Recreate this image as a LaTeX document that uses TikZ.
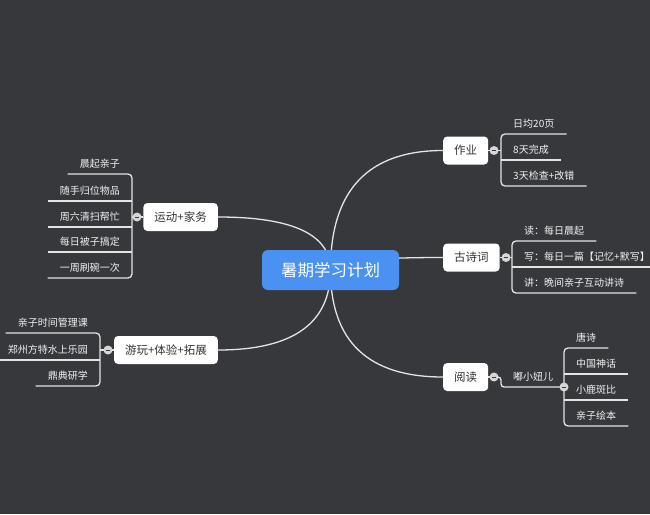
\documentclass[tikz,border=0pt]{standalone}
\usepackage{fontspec}
\newfontfamily\cjk{Noto Sans CJK SC}
\usetikzlibrary{calc}
\definecolor{bgc}{HTML}{36383C}
\definecolor{linec}{HTML}{E4E4E4}
\definecolor{rootc}{HTML}{4B91F1}
\definecolor{leafc}{HTML}{F2F2F2}
\definecolor{topicc}{HTML}{333333}
\definecolor{foldc}{HTML}{D6D6D6}
\pgfdeclarelayer{bgzero}
\pgfdeclarelayer{bgone}
\pgfsetlayers{bgzero,bgone,main}
\tikzset{
  conn/.style={draw=linec, line width=1.3pt},
  rootbox/.style={fill=rootc, rounded corners=6pt, text=white,
    font=\cjk\fontsize{16.5}{20}\selectfont, minimum width=137pt, minimum height=40pt, inner sep=0pt},
  topic/.style={fill=white, rounded corners=4pt, text=topicc,
    font=\cjk\fontsize{11.5}{14}\selectfont, inner xsep=11pt, inner ysep=0pt, minimum height=28pt},
  leaf/.style={text=leafc, font=\cjk\fontsize{10}{12}\selectfont, inner xsep=12pt, inner ysep=5pt,
    text height=8.8pt, text depth=1.2pt},
  fold/.style={circle, fill=foldc, minimum size=9pt, inner sep=0pt,
    path picture={\draw[bgc, line width=1pt] ($(path picture bounding box.center)+(-2.3pt,0)$) -- ++(4.6pt,0);}},
}
\newcommand{\mapcurve}[2]{%
  \draw[conn] (#1.center) .. controls ($(#1.center)!0.6667!(#1.center |- #2)$) and ($(#2)!0.6667!(#1.center |- #2)$) .. (#2);}
\begin{document}
\begin{tikzpicture}[x=1pt, y=-1pt]
\begin{pgfonlayer}{bgzero}
  \fill[bgc] (0,0) rectangle (650,514);
\end{pgfonlayer}
\useasboundingbox (0,0) rectangle (650,514);

% root
\node[rootbox] (root) at (330.5,270) {暑期学习计划};

% topics
\node[topic, anchor=east] (t1) at (218,217) {运动+家务};
\node[topic, anchor=east] (t2) at (218,350) {游玩+体验+拓展};
\node[topic, anchor=west] (t3) at (443,150.5) {作业};
\node[topic, anchor=west] (t4) at (443,257.5) {古诗词};
\node[topic, anchor=west] (t5) at (443,377) {阅读};

% folds
\node[fold] (f1) at (137,217) {};
\node[fold] (f2) at (108,350) {};
\node[fold] (f3) at (494,150.5) {};
\node[fold] (f4) at (506,257.5) {};
\node[fold] (f5) at (494,377) {};
\node[fold] (f6) at (564,387) {};

% leaves of 运动+家务
\node[leaf, anchor=south east] (l11) at (132,174) {晨起亲子};
\node[leaf, anchor=south east] (l12) at (132,201) {随手归位物品};
\node[leaf, anchor=south east] (l13) at (132,227) {周六清扫帮忙};
\node[leaf, anchor=south east] (l14) at (132,252) {每日被子搞定};
\node[leaf, anchor=south east] (l15) at (132,278) {一周刷碗一次};

% leaves of 游玩+体验+拓展
\node[leaf, anchor=south east] (l21) at (100,333) {亲子时间管理课};
\node[leaf, anchor=south east] (l22) at (100,360) {郑州方特水上乐园};
\node[leaf, anchor=south east] (l23) at (100,386) {鼎典研学};

% leaves of 作业
\node[leaf, anchor=south west] (l31) at (501,134) {日均20页};
\node[leaf, anchor=south west] (l32) at (501,160) {8天完成};
\node[leaf, anchor=south west] (l33) at (501,186) {3天检查+改错};

% leaves of 古诗词
\node[leaf, anchor=south west] (l41) at (512,241) {读：每日晨起};
\node[leaf, anchor=south west] (l42) at (512,267) {写：每日一篇【记忆+默写】};
\node[leaf, anchor=south west] (l43) at (512,293) {讲：晚间亲子互动讲诗};

% 阅读
\node[leaf, anchor=south west] (s5) at (501,387) {嘟小妞儿};
\node[leaf, anchor=south west] (l51) at (564,348) {唐诗};
\node[leaf, anchor=south west] (l52) at (564,374) {中国神话};
\node[leaf, anchor=south west] (l53) at (564,400) {小鹿斑比};
\node[leaf, anchor=south west] (l54) at (564,426) {亲子绘本};

\begin{pgfonlayer}{bgone}
  % main curves
  \mapcurve{root}{t1.east}
  \mapcurve{root}{t2.east}
  \mapcurve{root}{t3.west}
  \mapcurve{root}{t4.west}
  \mapcurve{root}{t5.west}
  % topic to fold
  \draw[conn] (t1.west) -- (f1.center) -- (f1.center -| l11.south east);
  \draw[conn] (t2.west) -- (f2.center) -- (f2.center -| l21.south east);
  \draw[conn] (t3.east) -- (f3.center) -- (f3.center -| l31.south west);
  \draw[conn] (t4.east) -- (f4.center) -- (f4.center -| l41.south west);
  \draw[conn] (t5.east) -- (f5.center);
  % brackets
  \draw[conn, rounded corners=4pt] (l11.south west) -- (l11.south east) -- (l15.south east) -- (l15.south west);
  \draw[conn] (l12.south west) -- (l12.south east);
  \draw[conn] (l13.south west) -- (l13.south east);
  \draw[conn] (l14.south west) -- (l14.south east);
  \draw[conn, rounded corners=4pt] (l21.south west) -- (l21.south east) -- (l23.south east) -- (l23.south west);
  \draw[conn] (l22.south west) -- (l22.south east);
  \draw[conn, rounded corners=4pt] (l31.south east) -- (l31.south west) -- (l33.south west) -- (l33.south east);
  \draw[conn] (l32.south west) -- (l32.south east);
  \draw[conn, rounded corners=4pt] (l41.south east) -- (l41.south west) -- (l43.south west) -- (l43.south east);
  \draw[conn] (l42.south west) -- (l42.south east);
  \draw[conn, rounded corners=3pt] (f5.center) -- (f5.center -| s5.south west) -- (s5.south west) -- (f6.center);
  \draw[conn, rounded corners=4pt] (l51.south east) -- (l51.south west) -- (l54.south west) -- (l54.south east);
  \draw[conn] (l52.south west) -- (l52.south east);
  \draw[conn] (l53.south west) -- (l53.south east);
\end{pgfonlayer}
\end{tikzpicture}
\end{document}
